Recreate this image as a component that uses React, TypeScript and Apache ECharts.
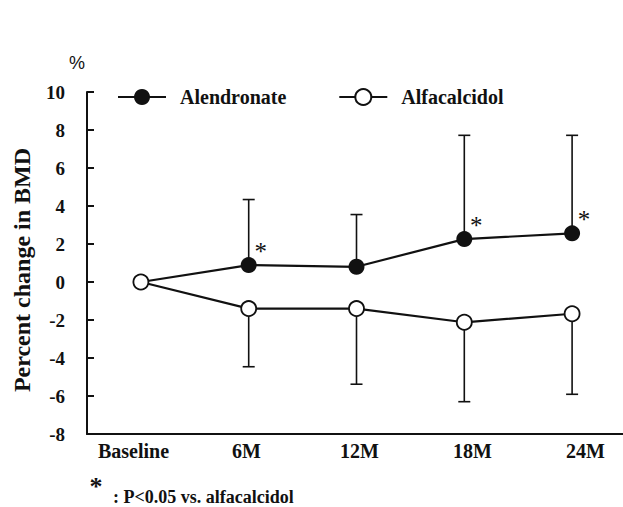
import React, { useEffect, useRef } from "react";
import * as echarts from "echarts";

const categories = ["Baseline", "6M", "12M", "18M", "24M"];
const alendronate = [0, 0.89, 0.8, 2.26, 2.56];
const alendronateUpper: (number | null)[] = [null, 4.34, 3.55, 7.72, 7.72];
const alfacalcidol = [0, -1.4, -1.4, -2.12, -1.67];
const alfacalcidolLower: (number | null)[] = [null, -4.46, -5.38, -6.3, -5.91];
const significant = [false, true, false, true, true];
const yMin = -8;
const yMax = 10;
const yStep = 2;
const yAxisTitle = "Percent change in BMD";
const unitLabel = "%";
const footnoteMark = "*";
const footnoteText = ": P<0.05 vs. alfacalcidol";

const SERIF = "'Liberation Serif', 'Times New Roman', serif";
const SANS = "'Liberation Sans', Arial, sans-serif";
const INK = "#111";

export default function App() {
  const ref = useRef<HTMLDivElement>(null);
  useEffect(() => {
    if (!ref.current) return;
    const chart = echarts.init(ref.current, undefined, { renderer: "svg" });

    const errAlen = alendronateUpper
      .map((u, i) => (u === null ? null : [i, alendronate[i], u]))
      .filter((d) => d !== null);
    const errAlfa = alfacalcidolLower
      .map((l, i) => (l === null ? null : [i, alfacalcidol[i], l]))
      .filter((d) => d !== null);

    const renderErr = (params: any, api: any) => {
      const x = api.value(0);
      const p0 = api.coord([x, api.value(1)]);
      const p1 = api.coord([x, api.value(2)]);
      const st = { stroke: INK, lineWidth: 1.6 };
      return {
        type: "group",
        children: [
          { type: "line", shape: { x1: p0[0], y1: p0[1], x2: p1[0], y2: p1[1] }, style: st },
          { type: "line", shape: { x1: p1[0] - 6, y1: p1[1], x2: p1[0] + 6, y2: p1[1] }, style: st },
        ],
      };
    };

    const option: any = {
      animation: false,
      grid: [
        { left: 87, right: -3, top: 92, bottom: 73, containLabel: false, outerBoundsMode: "none" },
        { left: 77, right: -19, top: 92, bottom: 73, containLabel: false, outerBoundsMode: "none" },
      ],
      legend: {
        data: ["Alendronate", "Alfacalcidol"],
        left: 117,
        top: 87,
        padding: 0,
        itemWidth: 48,
        itemHeight: 20,
        itemGap: 52,
        textStyle: { fontFamily: SERIF, fontWeight: "bold", fontSize: 20, color: INK, padding: [0, 0, 0, 9] },
      },
      xAxis: [
        {
          type: "value",
          gridIndex: 0,
          min: -0.5,
          max: 4.5,
          interval: 0.5,
          axisLine: { show: true, onZero: false, lineStyle: { color: INK, width: 2 } },
          axisTick: { show: false },
          splitLine: { show: false },
          axisLabel: { show: false },
        },
        {
          type: "category",
          gridIndex: 1,
          data: categories,
          boundaryGap: true,
          axisLine: { show: false },
          axisTick: { show: false },
          splitLine: { show: false },
          axisLabel: {
            margin: 7,
            interval: 0,
            fontFamily: SERIF,
            fontWeight: "bold",
            fontSize: 20,
            color: INK,
          },
        },
      ],
      yAxis: [
        {
          type: "value",
          gridIndex: 0,
          min: yMin,
          max: yMax,
          interval: yStep,
          axisLine: { show: true, onZero: false, lineStyle: { color: INK, width: 2 } },
          axisTick: { show: true, inside: true, length: 7, lineStyle: { color: INK, width: 2 } },
          splitLine: { show: false },
          axisLabel: { margin: 22, fontFamily: SERIF, fontWeight: "bold", fontSize: 19, color: INK },
        },
        {
          type: "value",
          gridIndex: 1,
          min: yMin,
          max: yMax,
          show: false,
        },
      ],
      graphic: [
        {
          type: "text",
          x: 22,
          y: 270,
          rotation: Math.PI / 2,
          style: {
            text: yAxisTitle,
            fontFamily: SERIF,
            fontWeight: "bold",
            fontSize: 24,
            fill: INK,
            align: "center",
            verticalAlign: "middle",
          },
        },
        {
          type: "text",
          x: 77,
          y: 63,
          style: { text: unitLabel, fontFamily: SANS, fontSize: 18, fill: INK, align: "center", verticalAlign: "middle" },
        },
        {
          type: "text",
          x: 96,
          y: 486,
          style: { text: footnoteMark, fontFamily: SERIF, fontWeight: "bold", fontSize: 26, fill: INK, align: "center", verticalAlign: "middle" },
        },
        {
          type: "text",
          x: 113,
          y: 497,
          style: { text: footnoteText, fontFamily: SERIF, fontWeight: "bold", fontSize: 18, fill: INK, align: "left", verticalAlign: "middle" },
        },
      ],
      series: [
        {
          type: "custom",
          name: "errAlen",
          renderItem: renderErr,
          encode: { x: 0, y: [1, 2] },
          data: errAlen,
          z: 1,
          silent: true,
        },
        {
          type: "custom",
          name: "errAlfa",
          renderItem: renderErr,
          encode: { x: 0, y: [1, 2] },
          data: errAlfa,
          z: 1,
          silent: true,
        },
        {
          name: "Alendronate",
          type: "line",
          z: 3,
          symbol: "circle",
          symbolSize: 16,
          lineStyle: { color: INK, width: 2.2 },
          itemStyle: { color: INK, borderColor: INK, borderWidth: 0 },
          data: alendronate.map((v, i) => ({
            value: [i, v],
            label: {
              show: significant[i],
              position: "inside",
              offset: [12, -14],
              formatter: "*",
              fontFamily: SERIF,
              fontSize: 25,
              color: INK,
              textBorderWidth: 0,
              textBorderColor: "transparent",
              textShadowBlur: 0,
            },
          })),
        },
        {
          name: "Alfacalcidol",
          type: "line",
          z: 4,
          symbol: "circle",
          symbolSize: 15,
          lineStyle: { color: INK, width: 2.2 },
          itemStyle: { color: "#fff", borderColor: INK, borderWidth: 1.8 },
          data: alfacalcidol.map((v, i) => [i, v]),
        },
      ],
    };
    chart.setOption(option);
    return () => chart.dispose();
  }, []);
  return (
    <div
      ref={ref}
      style={{ position: "fixed", left: 0, top: 0, width: 623, height: 507, background: "#fff" }}
    />
  );
}
